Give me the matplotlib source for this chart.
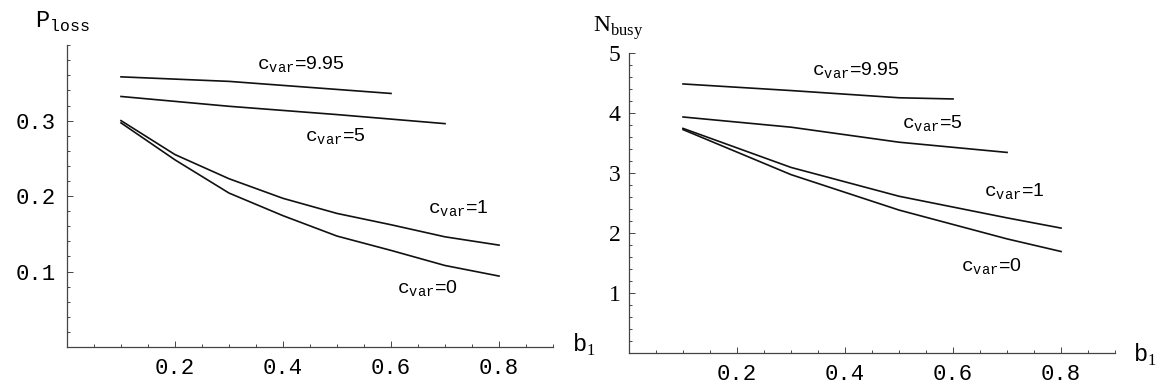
import matplotlib
matplotlib.use("Agg")
import matplotlib.pyplot as plt
from matplotlib.ticker import MultipleLocator, FixedLocator
import numpy as np

plt.rcParams["mathtext.fontset"] = "custom"
plt.rcParams["mathtext.rm"] = "Liberation Mono"
plt.rcParams["mathtext.sf"] = "Liberation Sans"
plt.rcParams["mathtext.tt"] = "Liberation Serif"

# left panel: loss probability
b_loss = [0.1, 0.2, 0.3, 0.4, 0.5, 0.6, 0.7, 0.8]
ploss_0 = [0.297, 0.248, 0.204, 0.174, 0.147, 0.128, 0.108, 0.094]
ploss_1 = [0.300, 0.255, 0.223, 0.197, 0.177, 0.162, 0.146, 0.135]
b_loss_5 = [0.1, 0.3, 0.5, 0.7]
ploss_5 = [0.332, 0.319, 0.308, 0.296]
b_loss_995 = [0.1, 0.3, 0.6]
ploss_995 = [0.358, 0.352, 0.336]

# right panel: number of busy servers
b_busy = [0.1, 0.3, 0.5, 0.7, 0.8]
nbusy_0 = [3.72, 2.97, 2.38, 1.90, 1.69]
nbusy_1 = [3.74, 3.09, 2.61, 2.25, 2.08]
b_busy_5 = [0.1, 0.3, 0.5, 0.7]
nbusy_5 = [3.93, 3.76, 3.51, 3.34]
b_busy_995 = [0.1, 0.3, 0.5, 0.6]
nbusy_995 = [4.48, 4.37, 4.25, 4.23]

cvar = r"$\mathrm{c}_{\mathrm{var}}$"
lab_995 = cvar + "=9.95"
lab_5 = cvar + "=5"
lab_1 = cvar + "=1"
lab_0 = cvar + "=0"

fig = plt.figure(figsize=(11.67, 3.92), dpi=100)
ax1 = fig.add_axes([0.0574, 0.1148, 0.4165, 0.770])
ax2 = fig.add_axes([0.539, 0.0995, 0.4165, 0.766])

lc = "#111111"
lw = 1.2


def style(ax):
    for s in ["top", "right"]:
        ax.spines[s].set_visible(False)
    for s in ["left", "bottom"]:
        ax.spines[s].set_color("#444444")
        ax.spines[s].set_linewidth(0.9)
    ax.tick_params(which="both", direction="in", color="#444444", width=0.7)
    ax.tick_params(which="major", length=4)
    ax.tick_params(which="minor", length=2.5)
    ax.set_xlim(0, 0.9)
    ax.xaxis.set_major_locator(FixedLocator([0.2, 0.4, 0.6, 0.8]))
    ax.xaxis.set_minor_locator(MultipleLocator(0.05))
    ax.tick_params(axis="x", which="major", pad=8)


def cv_text(ax, x, y, s):
    ax.text(x, y, s, fontsize=14, ha="left", va="center",
            fontfamily="Liberation Sans")


# left
ax = ax1
ax.plot(b_loss_995, ploss_995, color=lc, lw=lw)
ax.plot(b_loss_5, ploss_5, color=lc, lw=lw)
ax.plot(b_loss, ploss_1, color=lc, lw=lw)
ax.plot(b_loss, ploss_0, color=lc, lw=lw)
ax.set_ylim(0, 0.4)
ax.yaxis.set_major_locator(FixedLocator([0.1, 0.2, 0.3]))
ax.yaxis.set_minor_locator(MultipleLocator(0.02))
ax.set_yticklabels(["0.1", "0.2", "0.3"], fontfamily="Liberation Mono", fontsize=16)
ax.tick_params(axis="y", which="major", pad=8)
style(ax)
ax.set_xticklabels(["0.2", "0.4", "0.6", "0.8"], fontfamily="Liberation Mono", fontsize=16)
cv_text(ax, 0.352, 0.374, lab_995)
cv_text(ax, 0.441, 0.279, lab_5)
cv_text(ax, 0.668, 0.183, lab_1)
cv_text(ax, 0.611, 0.077, lab_0)
fig.text(35 / 1167, 1 - 22 / 392, r"$\mathrm{P}_{\mathrm{loss}}$", fontsize=17,
         ha="left", va="center")
fig.text(572 / 1167, 1 - 345 / 392, r"$\mathrm{b}_{\mathtt{1}}$", fontsize=17,
         ha="left", va="center")

# right
ax = ax2
ax.plot(b_busy_995, nbusy_995, color=lc, lw=lw)
ax.plot(b_busy_5, nbusy_5, color=lc, lw=lw)
ax.plot(b_busy, nbusy_1, color=lc, lw=lw)
ax.plot(b_busy, nbusy_0, color=lc, lw=lw)
ax.set_ylim(0, 5)
ax.yaxis.set_major_locator(FixedLocator([1, 2, 3, 4, 5]))
ax.yaxis.set_minor_locator(MultipleLocator(0.2))
ax.set_yticklabels(["1", "2", "3", "4", "5"], fontfamily="Liberation Serif", fontsize=17)
ax.tick_params(axis="y", which="major", pad=6)
style(ax)
ax.set_xticklabels(["0.2", "0.4", "0.6", "0.8"], fontfamily="Liberation Mono", fontsize=16)
cv_text(ax, 0.339, 4.70, lab_995)
cv_text(ax, 0.505, 3.82, lab_5)
cv_text(ax, 0.657, 2.69, lab_1)
cv_text(ax, 0.615, 1.44, lab_0)
fig.text(593 / 1167, 1 - 28 / 392, r"$\mathtt{N}_{\mathtt{busy}}$", fontsize=17,
         ha="left", va="center")
fig.text(1133 / 1167, 1 - 355 / 392, r"$\mathrm{b}_{\mathtt{1}}$", fontsize=17,
         ha="left", va="center")

fig.savefig("out.png", dpi=100)
plt.close(fig)
